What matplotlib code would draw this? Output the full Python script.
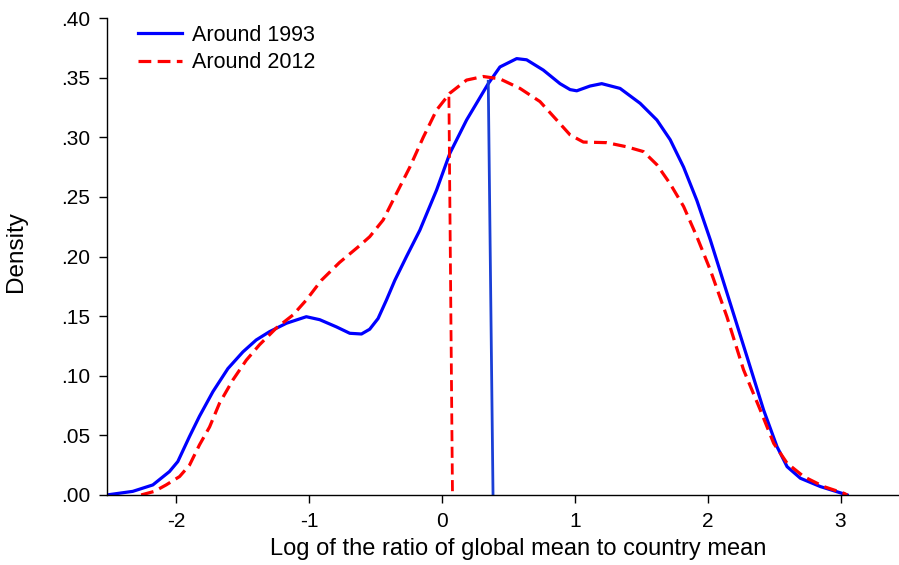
import matplotlib
matplotlib.use("Agg")
import matplotlib.pyplot as plt
from matplotlib.ticker import FuncFormatter

plt.rcParams['font.family'] = ['Liberation Sans', 'DejaVu Sans']

# Around 1993 density curve
x1993 = [-2.52, -2.326, -2.175, -2.05, -1.987, -1.899, -1.824, -1.723, -1.61, -1.497,
         -1.397, -1.296, -1.17, -1.02, -0.919, -0.794, -0.693, -0.605, -0.543, -0.48,
         -0.417, -0.354, -0.266, -0.166, -0.04, 0.06, 0.186, 0.349, 0.437, 0.563, 0.638,
         0.763, 0.889, 0.965, 1.015, 1.115, 1.203, 1.341, 1.492, 1.618, 1.718, 1.819,
         1.919, 2.02, 2.158, 2.296, 2.421, 2.522, 2.598, 2.698, 2.849, 3.05]
y1993 = [0.0, 0.003, 0.0084, 0.0196, 0.028, 0.049, 0.066, 0.0866, 0.106, 0.120,
         0.130, 0.137, 0.144, 0.1495, 0.147, 0.141, 0.1356, 0.135, 0.139, 0.148,
         0.1635, 0.180, 0.200, 0.222, 0.2557, 0.2865, 0.3145, 0.345, 0.359, 0.366, 0.365,
         0.3564, 0.345, 0.340, 0.339, 0.343, 0.345, 0.341, 0.3285, 0.3145, 0.298, 0.275,
         0.247, 0.214, 0.165, 0.116, 0.0713, 0.0405, 0.0237, 0.014, 0.007, 0.0]

# Around 2012 density curve
x2012 = [-2.263, -2.163, -2.075, -1.974, -1.899, -1.824, -1.748, -1.673, -1.573, -1.472,
         -1.372, -1.246, -1.12, -1.02, -0.907, -0.77, -0.62, -0.543, -0.442, -0.341,
         -0.241, -0.14, -0.04, 0.06, 0.186, 0.311, 0.437, 0.588, 0.738, 0.864, 0.965,
         1.065, 1.241, 1.392, 1.517, 1.618, 1.718, 1.819, 1.919, 2.02, 2.145, 2.27,
         2.396, 2.497, 2.598, 2.723, 2.874, 3.025, 3.05]
y2012 = [0.0, 0.003, 0.0084, 0.0154, 0.025, 0.042, 0.057, 0.077, 0.0964, 0.113,
         0.126, 0.140, 0.151, 0.1635, 0.180, 0.195, 0.209, 0.2166, 0.2306, 0.253,
         0.275, 0.300, 0.3228, 0.337, 0.348, 0.351, 0.349, 0.341, 0.330, 0.3145, 0.302,
         0.296, 0.2955, 0.292, 0.288, 0.277, 0.261, 0.242, 0.2166, 0.1887, 0.1495, 0.105,
         0.0713, 0.0433, 0.0266, 0.0154, 0.007, 0.0014, 0.0]

# Mean markers (top point, bottom point)
mean1993_x = [0.349, 0.385]
mean1993_y = [0.347, 0.0]
mean2012_x = [0.053, 0.08]
mean2012_y = [0.334, 0.0]

xticks = [-2, -1, 0, 1, 2, 3]
yticks = [0.0, 0.05, 0.10, 0.15, 0.20, 0.25, 0.30, 0.35, 0.40]

fig = plt.figure(figsize=(8.99, 5.65), dpi=100)
ax = fig.add_axes([0.119, 0.124, 0.881, 0.844])

blue = '#0000ff'
red = '#ff0000'
ax.plot(x1993, y1993, color=blue, lw=2.3, label='Around 1993', solid_joinstyle='round')
ax.plot(x2012, y2012, color=red, lw=2.3, dashes=(4, 2), label='Around 2012')
ax.plot(mean1993_x, mean1993_y, color='#1a3fd6', lw=2.0)
ax.plot(mean2012_x, mean2012_y, color=red, lw=2.0, dashes=(4, 2))

ax.set_xlim(-2.52, 3.44)
ax.set_ylim(0, 0.40)
ax.set_xticks(xticks)
ax.set_yticks(yticks)
ax.yaxis.set_major_formatter(FuncFormatter(lambda v, p: ('%.2f' % v)[1:] if v >= 0 else '%.2f' % v))
ax.xaxis.set_major_formatter(FuncFormatter(lambda v, p: '%d' % v))
ax.tick_params(direction='out', length=6, width=1, labelsize=15, pad=6)
for s in ['top', 'right']:
    ax.spines[s].set_visible(False)
for s in ['left', 'bottom']:
    ax.spines[s].set_linewidth(1)

ax.set_xlabel('Log of the ratio of global mean to country mean', fontsize=17)
ax.xaxis.set_label_coords(0.519, -0.091)
ax.set_ylabel('Density', fontsize=17.5)
ax.yaxis.set_label_coords(-0.1005, 0.51)

leg = ax.legend(loc='upper left', bbox_to_anchor=(0.0145, 1.027), frameon=False, fontsize=15.5,
                handlelength=2.05, handletextpad=0.45, labelspacing=0.3)

fig.savefig('out.png', dpi=100)
